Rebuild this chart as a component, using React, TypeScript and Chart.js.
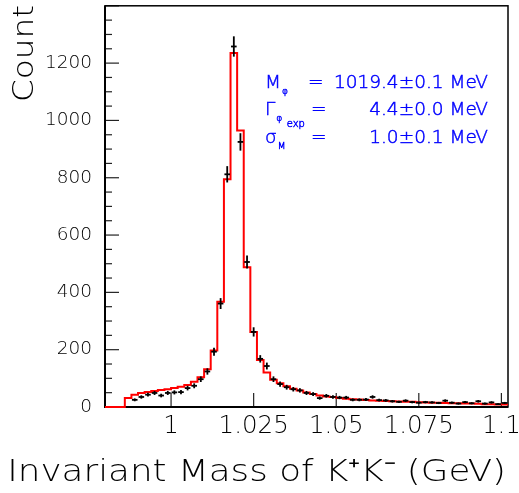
import React, { useEffect, useRef } from "react";
import { Chart, registerables } from "chart.js";

Chart.register(...registerables);

// ---- histogram definition (2 MeV bins) ----
const BIN_LOW = 0.98;
const BIN_WIDTH = 0.002;
const X_MIN = 0.98;
const X_MAX = 1.102;
const Y_MIN = 0;
const Y_MAX = 1400;

const X_TICKS = [1, 1.025, 1.05, 1.075, 1.1];
const X_TICK_LABELS = ["1", "1.025", "1.05", "1.075", "1.1"];
const Y_TICKS = [0, 200, 400, 600, 800, 1000, 1200];
const Y_MINOR_STEP = 50;
const Y_MAJOR_STEP = 200;

// fitted histogram (red), one value per bin
const FIT_COUNTS = [
  0, 0, 0, 31, 43, 49, 52, 56, 59, 62,
  66, 71, 77, 88, 104, 132, 197, 367, 795, 1235,
  965, 488, 262, 164, 120, 95, 83, 72, 64, 58,
  51, 45, 40, 37, 35, 31, 29, 27, 26, 24,
  23, 22, 21, 20, 19, 18, 18, 17, 16, 15,
  15, 14, 13, 13, 12, 12, 11, 10, 10, 9,
  9,
];

// measured data (black points with errors), one value per bin
const DATA_COUNTS = [
  0, 0, 0, 0, 25, 35, 43, 49, 40, 49,
  51, 52, 66, 74, 97, 124, 193, 361, 812, 1258,
  925, 506, 262, 168, 143, 97, 80, 69, 62, 58,
  49, 45, 31, 39, 35, 33, 33, 25, 25, 26,
  35, 24, 23, 20, 18, 22, 17, 15, 17, 16,
  14, 22, 15, 12, 17, 13, 20, 12, 16, 10,
  14,
];

// fit-result annotation
const PARAM_NAMES = ["M", "\u0393", "\u03c3"];
const PARAM_SUBS = ["\u03c6", "\u03c6", "M"];
const PARAM_SUPS = ["", "", "exp"];
const PARAM_VALUES = ["1019.4\u00b10.1 MeV", "4.4\u00b10.0 MeV", "1.0\u00b10.1 MeV"];

const X_TITLE = "Invariant Mass of K\u207aK\u207b (GeV)";
const Y_TITLE = "Count";

const FONT = "'DejaVu Sans', 'Liberation Sans', sans-serif";
const WEIGHT = "200";
const TEXT_COLOR = "#000";
const BLUE = "#0000ff";

function blueText(ctx: any, text: string, x: number, y: number) {
  ctx.fillText(text, x, y);
  ctx.strokeText(text, x, y);
}

const frameAndTicksPlugin = {
  id: "frameAndTicks",
  beforeDatasetsDraw(chart: any) {
    const { ctx, chartArea, scales } = chart;
    const xs = scales.x;
    const ys = scales.y;
    const { left, right, top, bottom } = chartArea;
    ctx.save();
    ctx.strokeStyle = "#222";
    ctx.lineWidth = 1.2;
    for (let v = Y_MIN; v <= Y_MAX; v += Y_MINOR_STEP) {
      const py = ys.getPixelForValue(v);
      const len = v % Y_MAJOR_STEP === 0 ? 14 : 7;
      ctx.beginPath();
      ctx.moveTo(left, py);
      ctx.lineTo(left + len, py);
      ctx.stroke();
    }
    X_TICKS.forEach((v) => {
      const px = xs.getPixelForValue(v);
      ctx.beginPath();
      ctx.moveTo(px, bottom);
      ctx.lineTo(px, bottom - 14);
      ctx.stroke();
    });
    ctx.strokeStyle = "#000";
    ctx.lineWidth = 1.5;
    ctx.strokeRect(left, top, right - left, bottom - top);
    ctx.lineWidth = 2;
    ctx.beginPath();
    ctx.moveTo(left, top);
    ctx.lineTo(left, bottom);
    ctx.lineTo(right, bottom);
    ctx.stroke();
    ctx.restore();
  },
  afterDatasetsDraw(chart: any) {
    const { ctx, chartArea, scales } = chart;
    const xs = scales.x;
    const ys = scales.y;
    const { left, right, top } = chartArea;
    ctx.save();
    ctx.strokeStyle = "#000";
    ctx.lineWidth = 1.8;
    DATA_COUNTS.forEach((n, i) => {
      if (n <= 0) return;
      const c = BIN_LOW + (i + 0.5) * BIN_WIDTH;
      const err = Math.sqrt(n);
      const px = xs.getPixelForValue(c);
      ctx.beginPath();
      ctx.moveTo(px, ys.getPixelForValue(n - err));
      ctx.lineTo(px, ys.getPixelForValue(n + err));
      ctx.stroke();
    });

    // axis titles (stretched horizontally like the original font)
    ctx.fillStyle = TEXT_COLOR;
    ctx.textBaseline = "alphabetic";
    ctx.font = `${WEIGHT} 30px ${FONT}`;
    ctx.save();
    ctx.translate(right - 2, 481);
    ctx.scale(1.19, 1);
    ctx.textAlign = "right";
    ctx.fillText(X_TITLE, 0, 0);
    ctx.restore();

    ctx.font = `${WEIGHT} 29px ${FONT}`;
    ctx.save();
    ctx.translate(33, top - 1);
    ctx.rotate(-Math.PI / 2);
    ctx.scale(1.13, 1);
    ctx.textAlign = "right";
    ctx.fillText(Y_TITLE, 0, 0);
    ctx.restore();

    // annotation
    ctx.fillStyle = BLUE;
    ctx.strokeStyle = BLUE;
    ctx.lineWidth = 0.5;
    const eqX = [203, 206, 206];
    PARAM_NAMES.forEach((name, i) => {
      const base = top + 82 + i * 27.5;
      const x0 = left + 160;
      ctx.font = `${WEIGHT} 18.5px ${FONT}`;
      ctx.textAlign = "left";
      blueText(ctx, name, x0, base);
      const w = ctx.measureText(name).width;
      ctx.font = `${WEIGHT} 9px ${FONT}`;
      blueText(ctx, PARAM_SUBS[i], x0 + w + 1, base + 6);
      if (PARAM_SUPS[i]) {
        ctx.font = `${WEIGHT} 10px ${FONT}`;
        blueText(ctx, PARAM_SUPS[i], x0 + w + 10, base - 16);
      }
      ctx.font = `${WEIGHT} 18.5px ${FONT}`;
      blueText(ctx, "=", left + eqX[i], base);
      ctx.textAlign = "right";
      blueText(ctx, PARAM_VALUES[i], left + 383, base);
    });
    ctx.restore();
  },
};

export default function App() {
  const canvasRef = useRef<HTMLCanvasElement | null>(null);

  useEffect(() => {
    document.body.style.margin = "0";
    const canvas = canvasRef.current;
    if (!canvas) return;
    const edges = Array.from({ length: FIT_COUNTS.length + 1 }, (_, i) => BIN_LOW + i * BIN_WIDTH);
    const fitData = edges.map((x, i) => ({ x, y: FIT_COUNTS[Math.min(i, FIT_COUNTS.length - 1)] }));
    const pointData = DATA_COUNTS.map((n, i) => ({ x: BIN_LOW + (i + 0.5) * BIN_WIDTH, y: n })).filter((p) => p.y > 0);

    const chart = new Chart(canvas, {
      type: "scatter",
      data: {
        datasets: [
          {
            type: "scatter",
            label: "data",
            data: pointData,
            pointStyle: "line",
            pointRadius: 2.8,
            borderColor: "#000",
            backgroundColor: "#000",
            borderWidth: 1.8,
            clip: false,
          } as any,
          {
            type: "line",
            label: "fit",
            data: fitData,
            stepped: "before",
            borderColor: "#ff0000",
            borderWidth: 2,
            pointRadius: 0,
            fill: false,
            clip: false,
          } as any,
        ],
      },
      options: {
        responsive: false,
        animation: false,
        devicePixelRatio: 1,
        layout: { padding: { left: 0, top: 5, right: 11, bottom: 0 } },
        plugins: { legend: { display: false }, tooltip: { enabled: false } },
        scales: {
          x: {
            type: "linear",
            min: X_MIN,
            max: X_MAX,
            afterBuildTicks: (s: any) => {
              s.ticks = X_TICKS.map((v) => ({ value: v }));
            },
            afterFit: (s: any) => {
              s.height = 86;
              s.paddingLeft = 0;
              s.paddingRight = 0;
            },
            ticks: {
              autoSkip: false,
              maxRotation: 0,
              padding: 5,
              color: TEXT_COLOR,
              font: { family: FONT, size: 24.5, weight: WEIGHT },
              callback: (v: any) => {
                const k = X_TICKS.indexOf(Number(v));
                return k >= 0 ? X_TICK_LABELS[k] : "";
              },
            },
            grid: { display: false, drawTicks: false },
            border: { display: false },
            title: { display: false },
          },
          y: {
            type: "linear",
            min: Y_MIN,
            max: Y_MAX,
            afterBuildTicks: (s: any) => {
              s.ticks = Y_TICKS.map((v) => ({ value: v }));
            },
            afterFit: (s: any) => {
              s.width = 105;
              s.paddingTop = 0;
              s.paddingBottom = 0;
            },
            ticks: {
              padding: 13,
              color: TEXT_COLOR,
              font: { family: FONT, size: 18.5, weight: WEIGHT },
              callback: (v: any) => String(v),
            },
            grid: { display: false, drawTicks: false },
            border: { display: false },
            title: { display: false },
          },
        },
      },
      plugins: [frameAndTicksPlugin],
    });
    return () => chart.destroy();
  }, []);

  return (
    <div style={{ width: 519, height: 493 }}>
      <canvas ref={canvasRef} width={519} height={493} style={{ display: "block" }} />
    </div>
  );
}
